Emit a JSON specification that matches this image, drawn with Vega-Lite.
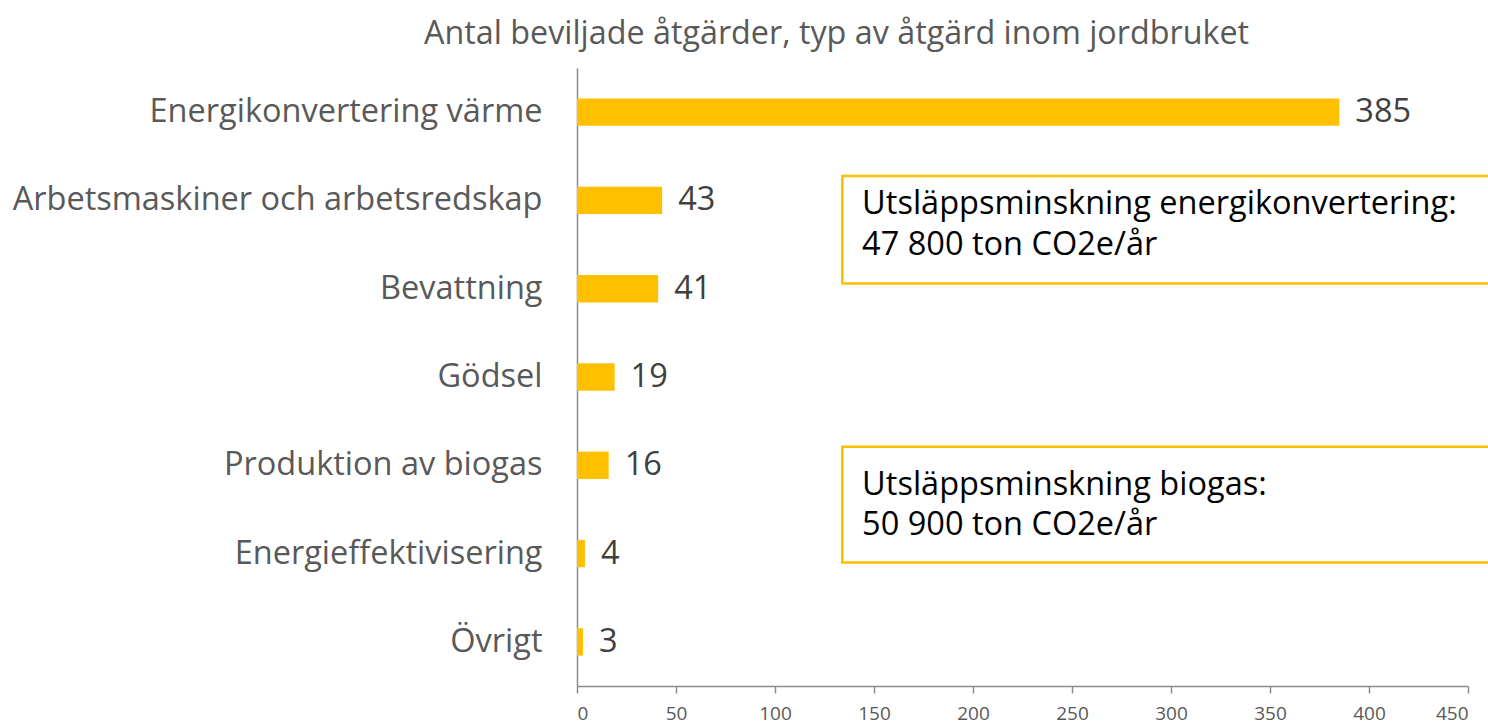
{
  "$schema": "https://vega.github.io/schema/vega-lite/v6.json",
  "autosize": {"type": "none"},
  "width": 891,
  "height": 618,
  "padding": {"left": 577, "top": 68, "right": 20, "bottom": 41},
  "background": "white",
  "config": {"font": "Open Sans", "view": {"stroke": null}},
  "title": {
    "text": "Antal beviljade åtgärder, typ av åtgärd inom jordbruket",
    "anchor": "start",
    "frame": "group",
    "dx": -153,
    "offset": 18,
    "fontSize": 32.3,
    "fontWeight": "normal",
    "color": "#595959",
    "font": "Open Sans"
  },
  "datasets": {
    "bars": [
      {"typ": "Energikonvertering värme", "antal": 385},
      {"typ": "Arbetsmaskiner och arbetsredskap", "antal": 43},
      {"typ": "Bevattning", "antal": 41},
      {"typ": "Gödsel", "antal": 19},
      {"typ": "Produktion av biogas", "antal": 16},
      {"typ": "Energieffektivisering", "antal": 4},
      {"typ": "Övrigt", "antal": 3}
    ],
    "boxes": [
      {"x": 134, "x2": 470, "y": 1.224, "y2": 2.44},
      {"x": 134, "x2": 470, "y": 4.29, "y2": 5.6}
    ],
    "notes": [
      {"x": 144, "y": 1.54, "t": "Utsläppsminskning energikonvertering:"},
      {"x": 144, "y": 2.0, "t": "47 800 ton CO2e/år"},
      {"x": 144, "y": 4.72, "t": "Utsläppsminskning biogas:"},
      {"x": 144, "y": 5.18, "t": "50 900 ton CO2e/år"}
    ]
  },
  "layer": [
    {
      "data": {"name": "bars"},
      "layer": [
        {
          "mark": {"type": "bar", "color": "#FFC000"},
          "encoding": {
            "y": {
              "field": "typ", "type": "nominal", "sort": null,
              "scale": {"paddingInner": 0.69, "paddingOuter": 0.345},
              "axis": {
                "title": null, "ticks": false, "labelFontSize": 32.5, "labelColor": "#595959",
                "labelPadding": 35, "domainColor": "#8c8c8c", "domainWidth": 1.5, "labelFont": "Open Sans", "labelLimit": 700
              }
            },
            "x": {
              "field": "antal", "type": "quantitative",
              "scale": {"domain": [0, 450], "nice": false},
              "axis": {
                "title": null, "values": [0, 50, 100, 150, 200, 250, 300, 350, 400, 450],
                "grid": false, "tickSize": 7, "tickColor": "#8c8c8c", "tickWidth": 1.5,
                "domainColor": "#8c8c8c", "domainWidth": 1.5,
                "labelFontSize": 19, "labelColor": "#595959", "labelPadding": 11, "labelFont": "Open Sans"
              }
            }
          }
        },
        {
          "mark": {"type": "text", "align": "left", "baseline": "middle", "dx": 16, "fontSize": 32.5, "color": "#404040", "font": "Open Sans"},
          "encoding": {
            "y": {"field": "typ", "type": "nominal", "sort": null},
            "x": {"field": "antal", "type": "quantitative"},
            "text": {"field": "antal", "type": "quantitative"}
          }
        }
      ]
    },
    {
      "data": {"name": "boxes"},
      "mark": {"type": "rect", "fill": "white", "stroke": "#FFC000", "strokeWidth": 2.5, "clip": false},
      "encoding": {
        "x": {"field": "x", "type": "quantitative"},
        "x2": {"field": "x2"},
        "y": {"field": "y", "type": "quantitative", "scale": {"domain": [0, 7], "reverse": true, "nice": false, "zero": false}, "axis": null},
        "y2": {"field": "y2"}
      }
    },
    {
      "data": {"name": "notes"},
      "mark": {"type": "text", "align": "left", "baseline": "middle", "fontSize": 32.5, "color": "#000000", "font": "Open Sans"},
      "encoding": {
        "x": {"field": "x", "type": "quantitative"},
        "y": {"field": "y", "type": "quantitative", "scale": {"domain": [0, 7], "reverse": true, "nice": false, "zero": false}, "axis": null},
        "text": {"field": "t", "type": "nominal"}
      }
    }
  ],
  "resolve": {"scale": {"y": "independent"}, "axis": {"y": "independent"}}
}
